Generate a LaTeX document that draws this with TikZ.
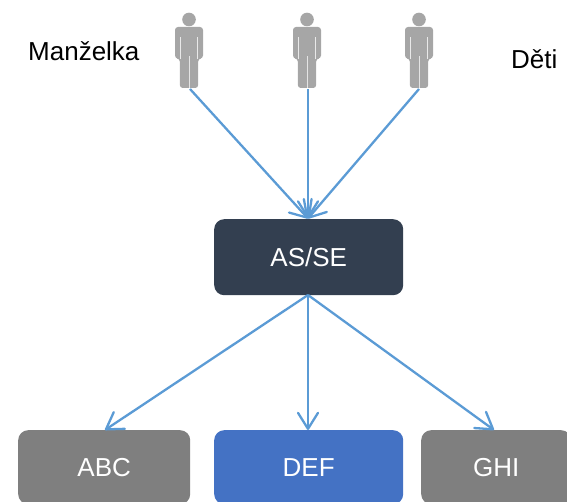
\documentclass[tikz,border=0pt]{standalone}
\usepackage{fontspec}
\setmainfont{Liberation Sans}
\usetikzlibrary{arrows.meta}
\definecolor{linkblue}{HTML}{5B9BD5}
\definecolor{darkbox}{HTML}{333F50}
\definecolor{greybox}{HTML}{7F7F7F}
\definecolor{bluebox}{HTML}{4472C4}
\definecolor{personc}{HTML}{A6A6A6}
\tikzset{
  x=1pt,y=-1pt,
  boxn/.style={rounded corners=10pt,inner sep=0pt,text=white,font=\fontsize{26}{30}\selectfont,anchor=north west},
  lab/.style={font=\fontsize{26}{30}\selectfont,text=black,inner sep=0pt},
  link/.style={draw=linkblue,line width=2.3pt,-{Straight Barb[length=16pt,width=20pt,line width=2.3pt,round]}},
  pers/.style={fill=personc,draw=none},
  personpic/.pic={
    \fill[pers] (0,-69.5) circle (6.8);
    \fill[pers,rounded corners=3pt] (-14,-62) -- (14,-62) -- (14,-30.5) -- (9.2,-30.5) -- (9.2,-1) -- (-9.2,-1) -- (-9.2,-30.5) -- (-14,-30.5) -- cycle;
    \fill[white!75!personc] (-8.9,-52) rectangle (-8.2,-30);
    \fill[white!75!personc] (8.2,-52) rectangle (8.9,-30);
    \fill[white!70!personc] (-0.5,-33) rectangle (0.5,-1);
  }
}
\begin{document}
\begin{tikzpicture}
\useasboundingbox (0,0) rectangle (567,502);
\begin{scope}
\clip (0,0) rectangle (567,502);
\node[boxn,fill=darkbox,minimum width=189pt,minimum height=76pt] (main) at (214,219) {AS/SE};
\node[boxn,fill=greybox,minimum width=172pt,minimum height=74pt] (abc) at (18,430) {ABC};
\node[boxn,fill=bluebox,minimum width=189pt,minimum height=74pt] (def) at (214,430) {DEF};
\node[boxn,fill=greybox,minimum width=150pt,minimum height=74pt] (ghi) at (421,430) {GHI};
\end{scope}
\pic at (189,89) {personpic};
\pic at (307,89) {personpic};
\pic at (419,89) {personpic};
\coordinate (p1) at (190,89);
\coordinate (p2) at (308,89);
\coordinate (p3) at (419,89);
\coordinate (t) at (308,218.5);
\coordinate (b) at (308,295);
\coordinate (tabc) at (105,430);
\coordinate (tdef) at (308,430);
\coordinate (tghi) at (494,430);
\draw[link] (p1) -- (t);
\draw[link] (p2) -- (t);
\draw[link] (p3) -- (t);
\draw[link] (b) -- (tabc);
\draw[link] (b) -- (tdef);
\draw[link] (b) -- (tghi);
\node[lab,anchor=west] (m) at (28,51) {Manželka};
\node[lab,anchor=west] (d) at (511,59) {Děti};
\end{tikzpicture}
\end{document}
